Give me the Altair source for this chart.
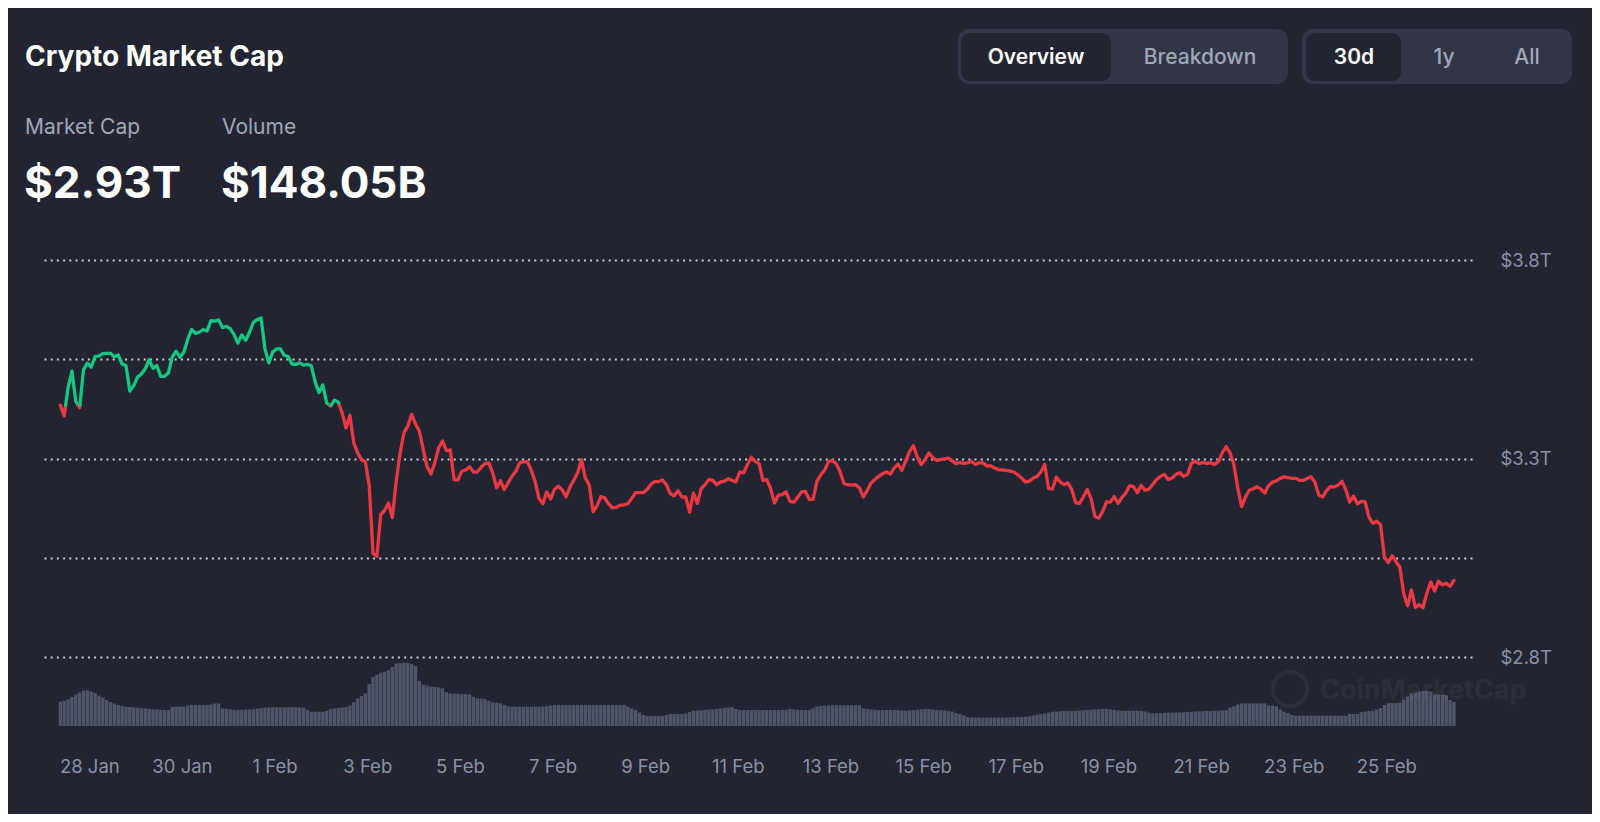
import altair as alt
import pandas as pd

# ---------------- data ----------------
START = "2025-01-27 09:00"          # first sample (UTC), samples every 2 hours
market_cap_t = [
    3.434, 3.407, 3.478, 3.520, 3.444, 3.428, 3.524, 3.540, 3.530, 3.557,
    3.558, 3.564, 3.565, 3.565, 3.556, 3.561, 3.538, 3.534, 3.470, 3.483,
    3.505, 3.513, 3.526, 3.549, 3.527, 3.534, 3.507, 3.507, 3.516, 3.556,
    3.570, 3.555, 3.568, 3.600, 3.625, 3.615, 3.618, 3.625, 3.621, 3.647,
    3.646, 3.649, 3.630, 3.633, 3.627, 3.612, 3.591, 3.611, 3.598, 3.618,
    3.643, 3.650, 3.654, 3.576, 3.541, 3.568, 3.576, 3.576, 3.560, 3.557,
    3.538, 3.537, 3.541, 3.535, 3.537, 3.534, 3.493, 3.466, 3.485, 3.440,
    3.432, 3.447, 3.442, 3.415, 3.377, 3.409, 3.340, 3.314, 3.297, 3.292,
    3.234, 3.061, 3.054, 3.159, 3.169, 3.188, 3.151, 3.243, 3.313, 3.365,
    3.381, 3.411, 3.387, 3.369, 3.323, 3.279, 3.261, 3.289, 3.327, 3.344,
    3.320, 3.322, 3.247, 3.246, 3.268, 3.271, 3.279, 3.266, 3.266, 3.278,
    3.287, 3.289, 3.264, 3.226, 3.244, 3.222, 3.239, 3.255, 3.268, 3.289,
    3.292, 3.292, 3.270, 3.242, 3.199, 3.186, 3.216, 3.198, 3.222, 3.230,
    3.221, 3.203, 3.228, 3.245, 3.264, 3.297, 3.251, 3.233, 3.166, 3.180,
    3.204, 3.201, 3.186, 3.176, 3.177, 3.182, 3.183, 3.186, 3.199, 3.214,
    3.214, 3.214, 3.222, 3.235, 3.242, 3.242, 3.246, 3.234, 3.211, 3.206,
    3.219, 3.203, 3.203, 3.165, 3.213, 3.187, 3.224, 3.234, 3.247, 3.245,
    3.234, 3.241, 3.243, 3.249, 3.245, 3.241, 3.266, 3.264, 3.285, 3.303,
    3.293, 3.287, 3.245, 3.247, 3.224, 3.188, 3.208, 3.209, 3.216, 3.192,
    3.190, 3.202, 3.216, 3.217, 3.197, 3.197, 3.243, 3.259, 3.271, 3.292,
    3.295, 3.287, 3.266, 3.237, 3.234, 3.233, 3.234, 3.226, 3.203, 3.219,
    3.238, 3.247, 3.255, 3.262, 3.266, 3.261, 3.276, 3.286, 3.270, 3.294,
    3.318, 3.332, 3.303, 3.285, 3.297, 3.314, 3.302, 3.295, 3.297, 3.299,
    3.301, 3.294, 3.287, 3.290, 3.288, 3.289, 3.293, 3.285, 3.289, 3.289,
    3.281, 3.282, 3.276, 3.272, 3.271, 3.270, 3.268, 3.266, 3.259, 3.251,
    3.241, 3.243, 3.251, 3.255, 3.266, 3.285, 3.225, 3.223, 3.253, 3.241,
    3.234, 3.239, 3.222, 3.189, 3.187, 3.203, 3.222, 3.199, 3.154, 3.150,
    3.166, 3.191, 3.190, 3.204, 3.187, 3.202, 3.213, 3.231, 3.229, 3.214,
    3.232, 3.220, 3.223, 3.235, 3.247, 3.255, 3.260, 3.247, 3.251, 3.260,
    3.264, 3.255, 3.260, 3.288, 3.293, 3.287, 3.290, 3.288, 3.289, 3.285,
    3.292, 3.315, 3.330, 3.314, 3.285, 3.226, 3.179, 3.203, 3.220, 3.224,
    3.229, 3.223, 3.213, 3.232, 3.240, 3.244, 3.250, 3.254, 3.252, 3.250,
    3.250, 3.245, 3.245, 3.250, 3.254, 3.240, 3.208, 3.203, 3.219, 3.229,
    3.228, 3.233, 3.243, 3.221, 3.190, 3.205, 3.186, 3.192, 3.191, 3.152,
    3.137, 3.142, 3.133, 3.051, 3.038, 3.055, 3.040, 3.026, 2.960, 2.929,
    2.969, 2.925, 2.932, 2.924, 2.961, 2.989, 2.966, 2.991, 2.982, 2.986,
    2.978, 2.993,
]
volume_b = [
    148, 154, 162, 177, 192, 204, 217, 217, 210, 201,
    186, 174, 159, 146, 137, 128, 122, 118, 116, 113,
    111, 109, 107, 105, 102, 101, 99, 98, 98, 116,
    118, 118, 118, 125, 128, 128, 128, 128, 128, 131,
    137, 138, 108, 105, 102, 99, 98, 99, 100, 101,
    102, 106, 109, 112, 114, 114, 114, 114, 114, 114,
    114, 114, 114, 111, 98, 87, 87, 87, 87, 92,
    104, 107, 110, 113, 116, 125, 146, 168, 183, 198,
    256, 299, 314, 325, 332, 342, 360, 381, 384, 386,
    386, 378, 366, 275, 253, 247, 241, 238, 234, 230,
    207, 198, 198, 197, 195, 195, 193, 177, 168, 167,
    165, 153, 145, 142, 138, 128, 121, 118, 118, 118,
    118, 118, 118, 118, 118, 119, 122, 125, 128, 128,
    128, 128, 128, 128, 128, 128, 128, 128, 128, 128,
    128, 128, 128, 128, 128, 128, 128, 119, 107, 98,
    82, 67, 61, 61, 61, 61, 61, 67, 73, 73,
    73, 73, 76, 85, 93, 95, 96, 99, 101, 102,
    104, 107, 110, 112, 114, 104, 98, 98, 98, 98,
    98, 98, 98, 98, 98, 98, 98, 98, 98, 104,
    101, 98, 98, 98, 98, 107, 119, 122, 124, 126,
    126, 126, 126, 126, 126, 126, 126, 126, 108, 104,
    101, 99, 98, 98, 98, 98, 98, 97, 95, 93,
    96, 98, 99, 102, 104, 104, 101, 98, 96, 95,
    93, 88, 79, 73, 64, 55, 52, 52, 52, 52,
    52, 52, 52, 52, 52, 52, 52, 54, 55, 55,
    56, 59, 64, 69, 73, 76, 82, 87, 88, 90,
    92, 92, 93, 93, 95, 96, 98, 99, 101, 102,
    104, 104, 101, 98, 95, 93, 93, 93, 93, 93,
    93, 88, 82, 77, 78, 79, 81, 81, 82, 82,
    83, 84, 85, 87, 88, 89, 90, 92, 92, 93,
    93, 95, 98, 113, 121, 131, 137, 138, 138, 138,
    138, 138, 138, 125, 124, 119, 101, 88, 79, 67,
    63, 63, 63, 63, 63, 63, 63, 63, 63, 63,
    63, 63, 63, 63, 73, 73, 73, 84, 88, 92,
    94, 101, 110, 128, 139, 140, 140, 142, 162, 180,
    199, 204, 210, 214, 215, 210, 193, 192, 191, 189,
    159, 148,
]
x_tick_dates = ["2025-01-28", "2025-01-30", "2025-02-01", "2025-02-03", "2025-02-05",
                "2025-02-07", "2025-02-09", "2025-02-11", "2025-02-13", "2025-02-15",
                "2025-02-17", "2025-02-19", "2025-02-21", "2025-02-23", "2025-02-25"]
y_ticks = [2.8, 3.05, 3.3, 3.55, 3.8]
header_title = "Crypto Market Cap"
stat_labels = ["Market Cap", "Volume"]
stat_values = ["$2.93T", "$148.05B"]
view_buttons = ["Overview", "Breakdown"]
range_buttons = ["30d", "1y", "All"]

# ---------------- styling ----------------
BG = "#222531"
GREEN = "#16c784"
RED = "#ea3943"
MUTED = "#8a92a6"
X0, Y0 = 42, 260          # page position of the plot area's top-left corner
W, H = 1430, 466

# ---------------- tables ----------------
times = pd.date_range(START, periods=len(market_cap_t), freq="2h", tz="UTC")
t_ms = [int(v) for v in (times.asi8 // 1_000_000)]

vol_df = pd.DataFrame({"t": t_ms, "vol": volume_b})

# split the line where it crosses the opening value (green above, red below)
thr = market_cap_t[0]
rows = []
state = {"run": -1, "side": None}


def add(t, v, s):
    if s != state["side"]:
        state["run"] += 1
        state["side"] = s
    rows.append({"t": t, "v": v, "side": s, "run": state["run"], "i": len(rows)})


for k in range(len(market_cap_t) - 1):
    a = market_cap_t[k] - thr
    b = market_cap_t[k + 1] - thr
    if a * b < 0:
        f = a / (a - b)
        tc = t_ms[k] + f * (t_ms[k + 1] - t_ms[k])
        s1 = "up" if a > 0 else "down"
        s2 = "down" if s1 == "up" else "up"
        add(t_ms[k], market_cap_t[k], s1)
        add(tc, thr, s1)
        add(tc, thr, s2)
        add(t_ms[k + 1], market_cap_t[k + 1], s2)
    else:
        s = "up" if (a + b) > 0 else "down"
        add(t_ms[k], market_cap_t[k], s)
        add(t_ms[k + 1], market_cap_t[k + 1], s)
line_df = pd.DataFrame(rows)


def dt(s, h=0, m=0):
    d = pd.Timestamp(s)
    return alt.DateTime(year=d.year, month=d.month, date=d.day, hours=h, minutes=m, utc=True)


x_axis = alt.Axis(values=[dt(s) for s in x_tick_dates],
                  labelExpr="utcFormat(datum.value, '%-d %b')",
                  grid=False, domain=False, ticks=False, tickSize=0,
                  labelPadding=46, labelBaseline="alphabetic",
                  labelFontSize=18.5, labelColor=MUTED, labelFont="Inter",
                  title=None)
x_scale = alt.Scale(type="utc", domain=[dt("2025-01-27", 2, 5), dt("2025-02-26", 17, 47)])
X = alt.X("t:T", scale=x_scale, axis=x_axis)

bars = alt.Chart(vol_df).mark_bar(width=3.4, color="#4f5567").encode(
    x=X,
    y=alt.Y("vol:Q", scale=alt.Scale(domain=[0, 2843], nice=False, zero=True), axis=None),
)

label_expr = ("(abs(datum.value-3.05)<0.01 || abs(datum.value-3.55)<0.01) ? '' : "
              "'$' + format(datum.value, '.1f') + 'T'")
line = alt.Chart(line_df).mark_line(strokeWidth=3.3, strokeJoin="round", strokeCap="round").encode(
    x=X,
    y=alt.Y("v:Q", scale=alt.Scale(domain=[2.6262, 3.8], nice=False, zero=False),
            axis=alt.Axis(orient="right", values=y_ticks, labelExpr=label_expr,
                          grid=True, gridColor="#c9ccd4", gridDash=[2, 4.2], gridWidth=2,
                          domain=False, ticks=False, tickSize=0, labelPadding=28,
                          labelAlign="left", labelBaseline="middle", labelFontSize=18.5,
                          labelColor=MUTED, labelFont="Inter", title=None)),
    color=alt.Color("side:N", scale=alt.Scale(domain=["up", "down"], range=[GREEN, RED]), legend=None),
    detail="run:N",
    order="i:Q",
)

one = pd.DataFrame({"k": [0]})


def txt(s, x, y, size, color, weight="normal", align="left", opacity=1.0):
    return alt.Chart(one).mark_text(text=s, align=align, baseline="alphabetic", fontSize=size,
                                    fontWeight=weight, color=color, font="Inter",
                                    opacity=opacity).encode(
        x=alt.value(x - X0), y=alt.value(y - Y0))


def box(x1, y1, x2, y2, fill, r):
    return alt.Chart(one).mark_rect(fill=fill, cornerRadius=r).encode(
        x=alt.value(x1 - X0), x2=alt.value(x2 - X0), y=alt.value(y1 - Y0), y2=alt.value(y2 - Y0))


deco = [
    # watermark
    alt.Chart(one).mark_point(shape="circle", size=1190, filled=False, strokeWidth=4,
                              color="#ffffff", opacity=0.04).encode(
        x=alt.value(1290 - X0), y=alt.value(689 - Y0)),
    txt("CoinMarketCap", 1320, 699, 27, "#ffffff", "bold", opacity=0.04),
    # header
    txt(header_title, 25, 66, 28, "#ffffff", "bold"),
    txt(stat_labels[0], 25, 134, 21, "#a1a7bb"),
    txt(stat_labels[1], 222, 134, 21, "#a1a7bb"),
    txt(stat_values[0], 24, 198, 44, "#ffffff", "bold"),
    txt(stat_values[1], 221, 198, 44, "#ffffff", "bold"),
    # button groups
    box(958, 29, 1288, 84, "#323546", 11),
    box(961, 33, 1111, 81, BG, 9),
    box(1302, 29, 1572, 84, "#323546", 11),
    box(1306, 33, 1401, 81, BG, 9),
    txt(view_buttons[0], 1036, 64, 21, "#ffffff", 600, "center"),
    txt(view_buttons[1], 1200, 64, 21, "#a1a7bb", 500, "center"),
    txt(range_buttons[0], 1354, 64, 21, "#ffffff", 600, "center"),
    txt(range_buttons[1], 1444, 64, 21, "#a1a7bb", 500, "center"),
    txt(range_buttons[2], 1527, 64, 21, "#a1a7bb", 500, "center"),
]

chart = alt.layer(bars, line, *deco).resolve_scale(y="independent").properties(
    width=W, height=H,
    padding={"left": X0 - 8, "top": Y0 - 8, "right": 120, "bottom": 88},
    autosize=alt.AutoSizeParams(type="none"),
).configure(background=BG, font="Inter").configure_view(stroke=None)

chart.save("out.html", embed_options={"renderer": "svg", "actions": False})
